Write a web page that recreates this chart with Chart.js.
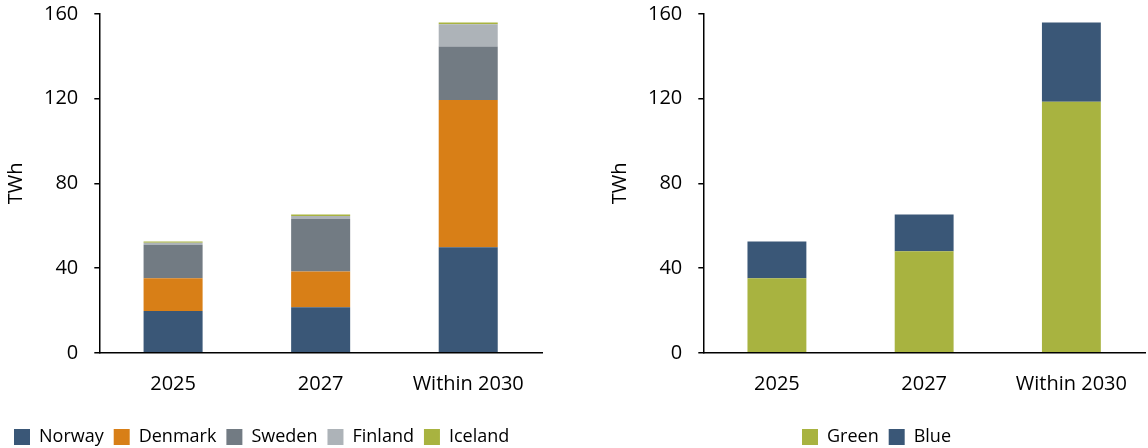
<!DOCTYPE html>
<html lang="en">
<head>
    <meta charset="UTF-8">
    <title>TWh by country and type</title>
    <script src="https://cdn.jsdelivr.net/npm/chart.js"></script>
    <style>
        body { margin: 0; background: #fff; overflow: hidden; }
        .box { position: absolute; top: -14px; width: 574px; height: 462px; }
        #leftBox { left: 0; }
        #rightBox { left: 574px; }
    </style>
</head>
<body>
    <div class="box" id="leftBox"><canvas id="countryChart"></canvas></div>
    <div class="box" id="rightBox"><canvas id="typeChart"></canvas></div>

    <script>
        // categories
        const categories = ['2025', '2027', 'Within 2030'];

        // left chart, by country (TWh)
        const norway  = [19.7, 21.5, 49.8];
        const denmark = [15.5, 16.9, 69.6];
        const sweden  = [15.8, 24.8, 25.3];
        const finland = [1.0, 1.4, 10.5];
        const iceland = [0.6, 0.7, 0.8];

        // right chart, by type (TWh)
        const green = [35.2, 47.9, 118.6];
        const blue  = [17.4, 17.4, 37.4];

        const yTicks = [0, 40, 80, 120, 160];

        const FONT = "'Open Sans', sans-serif";

        function bar(label, data, color) {
            return {
                label: label,
                data: data,
                backgroundColor: color,
                borderWidth: 0,
                barPercentage: 0.4,
                categoryPercentage: 1.0
            };
        }

        function makeOptions(pad, legendAlign) {
            return {
                responsive: false,
                animation: false,
                layout: { padding: pad },
                plugins: {
                    legend: {
                        position: 'bottom',
                        align: legendAlign,
                        labels: {
                            color: '#000',
                            font: { family: FONT, size: 18 },
                            boxWidth: 16,
                            boxHeight: 16,
                            padding: 10
                        }
                    },
                    tooltip: { enabled: false }
                },
                scales: {
                    x: {
                        stacked: true,
                        grid: { display: false },
                        border: { color: '#000', width: 1.5 },
                        ticks: { color: '#000', font: { family: FONT, size: 20 }, padding: 11 },
                        // blank title, only used as spacing above the legend
                        title: { display: true, text: ' ', font: { size: 6 }, padding: { top: 0, bottom: 4 } }
                    },
                    y: {
                        stacked: true,
                        min: 0,
                        max: 160,
                        afterBuildTicks: axis => { axis.ticks = yTicks.map(v => ({ value: v })); },
                        grid: { drawOnChartArea: false, tickLength: 5, color: '#000', lineWidth: 1.5 },
                        border: { color: '#000', width: 1.5 },
                        ticks: { color: '#000', font: { family: FONT, size: 20 }, padding: 16 },
                        title: {
                            display: true,
                            text: 'TWh',
                            color: '#000',
                            font: { family: FONT, size: 20 },
                            padding: 0
                        }
                    }
                }
            };
        }

        function draw(id, datasets, pad, legendAlign) {
            const cv = document.getElementById(id);
            cv.width = 574;
            cv.height = 462;
            new Chart(cv.getContext('2d'), {
                type: 'bar',
                data: { labels: categories, datasets: datasets },
                options: makeOptions(pad, legendAlign)
            });
        }

        draw('countryChart', [
            bar('Norway', norway, '#3A5777'),
            bar('Denmark', denmark, '#D87F17'),
            bar('Sweden', sweden, '#727B83'),
            bar('Finland', finland, '#ADB3B8'),
            bar('Iceland', iceland, '#A8B340')
        ], { left: 4, right: 32, top: -6, bottom: -8 }, 'start');

        draw('typeChart', [
            bar('Green', green, '#A8B340'),
            bar('Blue', blue, '#3A5777')
        ], { left: 34, right: 3, top: -6, bottom: -8 }, 'center');
    </script>
</body>
</html>
